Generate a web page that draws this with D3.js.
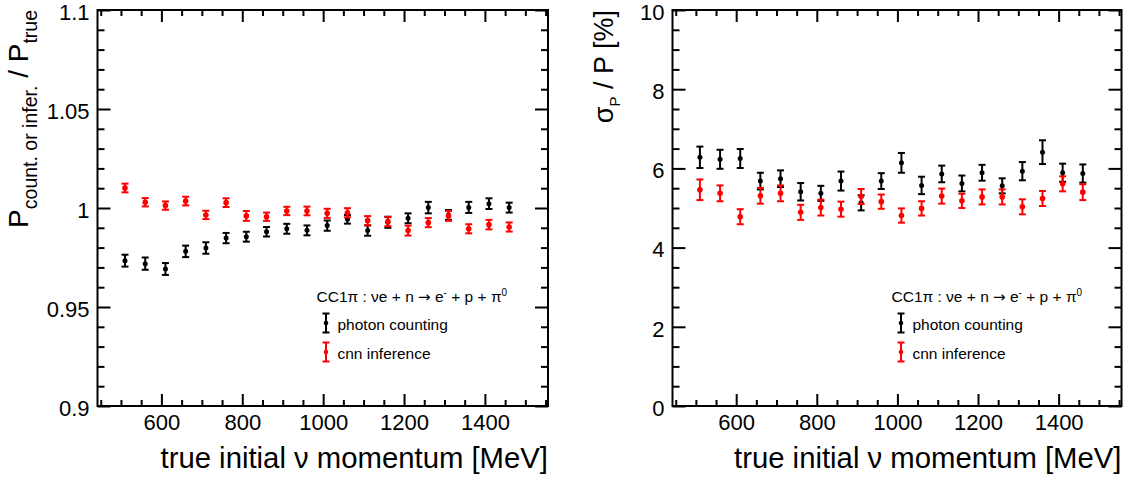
<!DOCTYPE html>
<html><head><meta charset="utf-8">
<script src="https://cdn.jsdelivr.net/npm/d3@7"></script>
<style>
body{margin:0;background:#fff}
svg{display:block}
text{font-family:"Liberation Sans",Arial,Helvetica,sans-serif;fill:#000}
</style>
</head><body>
<svg id="c" width="1130" height="477"></svg>
<script>
// ---- data ----
const momentum = [510,560,610,660,710,760,810,860,910,960,1010,1060,1110,1160,1210,1260,1310,1360,1410,1460];

const countingRatio    = [0.9734,0.9719,0.9692,0.9781,0.9798,0.9848,0.9855,0.9880,0.9895,0.9887,0.9911,0.9943,0.9886,0.9928,0.9948,1.0002,0.9965,1.0003,1.0022,1.0002];
const countingRatioErr = [0.0030,0.0031,0.0030,0.0029,0.0029,0.0026,0.0025,0.0024,0.0025,0.0025,0.0026,0.0022,0.0026,0.0028,0.0025,0.0029,0.0025,0.0028,0.0027,0.0025];
const cnnRatio         = [1.0101,1.0029,1.0012,1.0035,0.9965,1.0027,0.9960,0.9956,0.9985,0.9985,0.9973,0.9976,0.9936,0.9931,0.9886,0.9926,0.9960,0.9895,0.9916,0.9904];
const cnnRatioErr      = [0.0022,0.0021,0.0021,0.0022,0.0021,0.0022,0.0025,0.0021,0.0021,0.0022,0.0023,0.0023,0.0023,0.0023,0.0025,0.0023,0.0025,0.0023,0.0024,0.0023];

const countingRes      = [6.28,6.23,6.25,5.68,5.74,5.41,5.37,5.68,5.13,5.68,6.14,5.57,5.86,5.62,5.89,5.56,5.93,6.41,5.89,5.87];
const countingResErr   = [0.27,0.24,0.24,0.21,0.21,0.22,0.19,0.24,0.19,0.20,0.25,0.22,0.21,0.20,0.20,0.19,0.23,0.30,0.23,0.23];
const cnnRes           = [5.46,5.37,4.78,5.31,5.37,4.89,5.01,4.97,5.29,5.16,4.81,4.99,5.30,5.18,5.28,5.28,5.03,5.24,5.61,5.40];
const cnnResErr        = [0.26,0.20,0.19,0.20,0.20,0.19,0.20,0.19,0.19,0.18,0.18,0.18,0.19,0.18,0.19,0.19,0.19,0.19,0.19,0.20];

const xMajorTicks = [600,800,1000,1200,1400];
const xMinorTicks = [450,500,550,650,700,750,850,900,950,1050,1100,1150,1250,1300,1350,1450,1500,1550];
const ratioMajorTicks = [0.9,0.95,1,1.05,1.1];
const ratioTickLabels = ["0.9","0.95","1","1.05","1.1"];
const resMajorTicks = [0,2,4,6,8,10];
const resTickLabels = ["0","2","4","6","8","10"];

const seriesNames = ["photon counting","cnn inference"];
const seriesColors = ["#000000","#ff0000"];

// ---- drawing ----
const svg = d3.select("#c");
const TOP = 10, BOTTOM = 406;

function panel(cfg){
  const x = d3.scaleLinear().domain([442,1556]).range([cfg.x0,cfg.x1]);
  const y = d3.scaleLinear().domain(cfg.yDomain).range([BOTTOM,TOP]);
  const g = svg.append("g");

  const minorY = [];
  for (let i=0;i<cfg.yMajor.length-1;i++){
    const a=cfg.yMajor[i], b=cfg.yMajor[i+1];
    for (let k=1;k<cfg.yMinorDiv;k++) minorY.push(a+(b-a)*k/cfg.yMinorDiv);
  }

  const style = sel => {
    sel.select(".domain").remove();
    sel.selectAll("line").attr("stroke","#000").attr("stroke-width",2);
    sel.selectAll("text").attr("font-size",22).attr("fill","#000")
       .attr("font-family","'Liberation Sans',Arial,sans-serif");
  };
  // bottom
  g.append("g").attr("transform",`translate(0,${BOTTOM})`)
    .call(d3.axisBottom(x).tickValues(xMajorTicks).tickSize(-12).tickPadding(8).tickFormat(d=>d)).call(style);
  g.append("g").attr("transform",`translate(0,${BOTTOM})`)
    .call(d3.axisBottom(x).tickValues(xMinorTicks).tickSize(-6).tickFormat("")).call(style);
  // top
  g.append("g").attr("transform",`translate(0,${TOP})`)
    .call(d3.axisTop(x).tickValues(xMajorTicks).tickSize(-12).tickFormat("")).call(style);
  g.append("g").attr("transform",`translate(0,${TOP})`)
    .call(d3.axisTop(x).tickValues(xMinorTicks).tickSize(-6).tickFormat("")).call(style);
  // left
  g.append("g").attr("transform",`translate(${cfg.x0},0)`)
    .call(d3.axisLeft(y).tickValues(cfg.yMajor).tickSize(-13).tickPadding(8)
      .tickFormat((d,i)=>cfg.yLabels[i])).call(style)
    .selectAll("text").attr("dy","0.42em");
  g.append("g").attr("transform",`translate(${cfg.x0},0)`)
    .call(d3.axisLeft(y).tickValues(minorY).tickSize(-7).tickFormat("")).call(style);
  // right
  g.append("g").attr("transform",`translate(${cfg.x1},0)`)
    .call(d3.axisRight(y).tickValues(cfg.yMajor).tickSize(-13).tickFormat("")).call(style);
  g.append("g").attr("transform",`translate(${cfg.x1},0)`)
    .call(d3.axisRight(y).tickValues(minorY).tickSize(-7).tickFormat("")).call(style);

  // frame
  g.append("rect").attr("x",cfg.x0).attr("y",TOP).attr("width",cfg.x1-cfg.x0).attr("height",BOTTOM-TOP)
    .attr("fill","none").attr("stroke","#000").attr("stroke-width",2);

  // series
  cfg.series.forEach((s,si)=>{
    const col = seriesColors[si];
    const sg = g.append("g");
    const pts = momentum.map((m,i)=>({m, v:s.vals[i], e:s.errs[i]}));
    const eb = sg.selectAll("g.eb").data(pts).join("g");
    eb.append("line").attr("x1",d=>x(d.m)).attr("x2",d=>x(d.m))
      .attr("y1",d=>y(d.v-d.e)).attr("y2",d=>y(d.v+d.e)).attr("stroke",col).attr("stroke-width",2);
    [-1,1].forEach(sgn=>{
      eb.append("line").attr("x1",d=>x(d.m)-3.5).attr("x2",d=>x(d.m)+3.5)
        .attr("y1",d=>y(d.v+sgn*d.e)).attr("y2",d=>y(d.v+sgn*d.e)).attr("stroke",col).attr("stroke-width",2);
    });
    eb.append("circle").attr("cx",d=>x(d.m)).attr("cy",d=>y(d.v)).attr("r",si?2.8:2.5).attr("fill",col);
  });

  // legend
  const lx = cfg.x0;
  const head = g.append("text").attr("x",lx+219).attr("y",302).attr("font-size",15.5);
  head.append("tspan").text("CC1π : νe + n ");
  head.append("tspan").attr("font-family","'DejaVu Sans',sans-serif").attr("font-size",15).text("→");
  head.append("tspan").text(" e");
  head.append("tspan").attr("dy",-6).attr("font-size",10).text("-");
  head.append("tspan").attr("dy",6).text(" + p + π");
  head.append("tspan").attr("dy",-6).attr("font-size",10).text("0");
  const ly = [323,352];
  seriesNames.forEach((n,i)=>{
    const cx = lx+228.5, cy = ly[i];
    g.append("line").attr("x1",cx).attr("x2",cx).attr("y1",cy-9.5).attr("y2",cy+9.5).attr("stroke",seriesColors[i]).attr("stroke-width",2);
    [-9.5,9.5].forEach(o=>g.append("line").attr("x1",cx-3.5).attr("x2",cx+3.5).attr("y1",cy+o).attr("y2",cy+o).attr("stroke",seriesColors[i]).attr("stroke-width",2));
    g.append("circle").attr("cx",cx).attr("cy",cy).attr("r",2.3).attr("fill",seriesColors[i]);
    g.append("text").attr("x",lx+240).attr("y",cy+6.5).attr("font-size",15.5).text(n);
  });

  // x title
  g.append("text").attr("x",cfg.x1).attr("y",468).attr("text-anchor","end").attr("font-size",29.3)
    .text("true initial ν momentum [MeV]");
  return g;
}

const gl = panel({x0:97.5,x1:548,yDomain:[0.9,1.1],yMajor:ratioMajorTicks,yLabels:ratioTickLabels,yMinorDiv:5,
  series:[{vals:countingRatio,errs:countingRatioErr},{vals:cnnRatio,errs:cnnRatioErr}]});
const gr = panel({x0:672.5,x1:1121.5,yDomain:[0,10],yMajor:resMajorTicks,yLabels:resTickLabels,yMinorDiv:4,
  series:[{vals:countingRes,errs:countingResErr},{vals:cnnRes,errs:cnnResErr}]});

// y titles
const t1 = svg.append("text").attr("transform","translate(28,10) rotate(-90)").attr("text-anchor","end").attr("font-size",28);
t1.append("tspan").text("P");
t1.append("tspan").attr("font-size",19.5).attr("dy",9).text("count. or infer.");
t1.append("tspan").attr("dy",-9).text(" / P");
t1.append("tspan").attr("font-size",19.5).attr("dy",9).text("true");

const t2 = svg.append("text").attr("transform","translate(613,10) rotate(-90)").attr("text-anchor","end").attr("font-size",27);
t2.append("tspan").text("σ");
t2.append("tspan").attr("font-size",15).attr("dy",7).text("P");
t2.append("tspan").attr("dy",-7).text(" / P [%]");
</script>
</body></html>
